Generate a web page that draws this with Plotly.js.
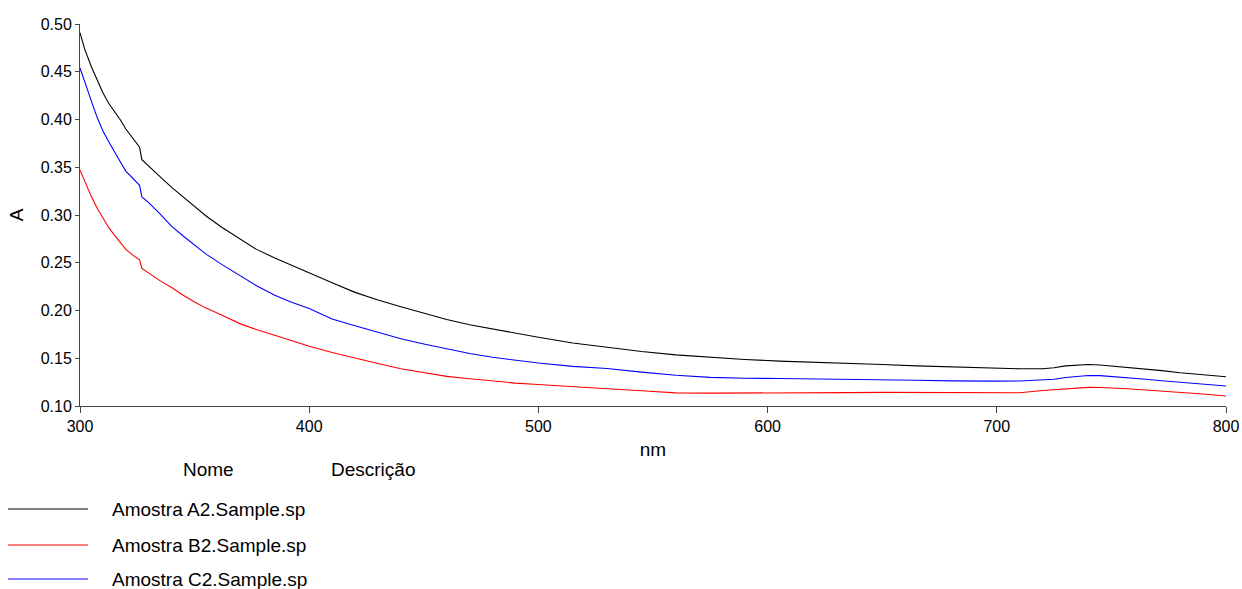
<!DOCTYPE html>
<html>
<head>
<meta charset="utf-8">
<script src="https://cdn.plot.ly/plotly-3.0.1.min.js"></script>
<style>html,body{margin:0;padding:0;background:#fff;}#chart{width:1242px;height:589px;}</style>
</head>
<body>
<div id="chart"></div>
<script>
// Wavelength grid (nm)
var wavelength = [300, 302, 305, 307.5, 310, 312.5, 315, 317.5, 320, 323,
  326, 327, 330, 335, 340, 345, 350, 355, 362, 370,
  377, 385, 392, 400, 410, 420, 430, 440, 450, 460,
  470, 480, 490, 500, 515, 530, 545, 560, 575, 590,
  605, 620, 635, 650, 665, 680, 690, 700, 710, 720,
  725, 730, 735, 740, 745, 750, 757, 765, 772, 780,
  790, 800];
// Absorbance series
var amostraA2 = [0.491, 0.474, 0.455, 0.441, 0.428, 0.417, 0.409, 0.400, 0.390, 0.380,
  0.371, 0.358, 0.351, 0.340, 0.329, 0.319, 0.309, 0.299, 0.287, 0.275,
  0.264, 0.255, 0.2475, 0.239, 0.229, 0.219, 0.211, 0.204, 0.197, 0.1905,
  0.185, 0.1805, 0.176, 0.172, 0.166, 0.1614, 0.157, 0.1535, 0.151, 0.1487,
  0.147, 0.146, 0.145, 0.1435, 0.142, 0.141, 0.140, 0.139, 0.139, 0.139,
  0.140, 0.142, 0.143, 0.1435, 0.143, 0.142, 0.140, 0.1384, 0.137, 0.1348,
  0.133, 0.1306];
var amostraB2 = [0.347, 0.335, 0.319, 0.307, 0.297, 0.287, 0.279, 0.271, 0.264, 0.258,
  0.253, 0.244, 0.239, 0.231, 0.224, 0.216, 0.209, 0.2025, 0.195, 0.186,
  0.180, 0.174, 0.168, 0.1625, 0.156, 0.150, 0.1445, 0.139, 0.135, 0.131,
  0.1285, 0.126, 0.124, 0.1225, 0.120, 0.118, 0.116, 0.1137, 0.1135, 0.1135,
  0.1135, 0.1135, 0.114, 0.1143, 0.1142, 0.1138, 0.1138, 0.1138, 0.1138, 0.1163,
  0.1172, 0.1183, 0.119, 0.1195, 0.1193, 0.119, 0.118, 0.1167, 0.1157, 0.1143,
  0.1125, 0.1104];
var amostraC2 = [0.454, 0.439, 0.419, 0.402, 0.388, 0.377, 0.366, 0.356, 0.346, 0.338,
  0.331, 0.319, 0.313, 0.301, 0.288, 0.278, 0.268, 0.259, 0.248, 0.236,
  0.226, 0.216, 0.209, 0.202, 0.191, 0.184, 0.177, 0.1705, 0.165, 0.1597,
  0.155, 0.151, 0.148, 0.145, 0.1415, 0.1393, 0.1355, 0.1322, 0.130, 0.129,
  0.1288, 0.1285, 0.128, 0.1278, 0.127, 0.1263, 0.126, 0.126, 0.1262, 0.127,
  0.128, 0.1298, 0.131, 0.132, 0.1318, 0.131, 0.1295, 0.128, 0.1265, 0.125,
  0.123, 0.121];

var seriesNames = ["Amostra A2.Sample.sp", "Amostra B2.Sample.sp", "Amostra C2.Sample.sp"];
var seriesColors = ["#000000", "#ff0000", "#0000ff"];
var seriesValues = [amostraA2, amostraB2, amostraC2];
var xTickVals = [300, 400, 500, 600, 700, 800];
var yTickVals = [0.10, 0.15, 0.20, 0.25, 0.30, 0.35, 0.40, 0.45, 0.50];
var legendHeaders = ["Nome", "Descrição"];

var W = 1242, H = 589;
var M = {l: 80, r: 16, t: 24, b: 183};
var PW = W - M.l - M.r, PH = H - M.t - M.b;
function px2x(px) { return (px - M.l) / PW; }
function py2y(py) { return (H - M.b - py) / PH; }

var FONT = "Liberation Sans, Arial, sans-serif";

var traces = seriesValues.map(function (vals, i) {
  return {
    x: wavelength, y: vals, type: "scatter", mode: "lines",
    name: seriesNames[i], showlegend: false,
    line: {color: seriesColors[i], width: 1.1}
  };
});

var legendRowsY = [509, 545, 579];
var shapes = [];
var annotations = [];
for (var i = 0; i < seriesNames.length; i++) {
  shapes.push({type: "line", xref: "paper", yref: "paper",
    x0: px2x(8), x1: px2x(88), y0: py2y(legendRowsY[i]), y1: py2y(legendRowsY[i]),
    line: {color: seriesColors[i], width: 1}});
  annotations.push({xref: "paper", yref: "paper", x: px2x(110), y: py2y(legendRowsY[i]),
    xanchor: "left", yanchor: "middle", showarrow: false, text: seriesNames[i],
    font: {family: FONT, size: 19, color: "#000"}});
}
annotations.push({xref: "paper", yref: "paper", x: px2x(208), y: py2y(469), xanchor: "center", yanchor: "middle",
  showarrow: false, text: legendHeaders[0], font: {family: FONT, size: 19, color: "#000"}});
annotations.push({xref: "paper", yref: "paper", x: px2x(373), y: py2y(469), xanchor: "center", yanchor: "middle",
  showarrow: false, text: legendHeaders[1], font: {family: FONT, size: 19, color: "#000"}});

var layout = {
  width: W, height: H,
  margin: M,
  paper_bgcolor: "#fff", plot_bgcolor: "#fff",
  font: {family: FONT, size: 16, color: "#000"},
  showlegend: false,
  xaxis: {
    range: [300, 800], tickvals: xTickVals, ticktext: xTickVals.map(String),
    showgrid: false, zeroline: false, showline: true, linecolor: "#444", linewidth: 1,
    ticks: "outside", ticklen: 6, tickcolor: "#444",
    tickfont: {family: FONT, size: 16, color: "#000"},
    title: {text: "nm", font: {family: FONT, size: 19, color: "#000"}, standoff: 8}
  },
  yaxis: {
    range: [0.10, 0.50], tickvals: yTickVals, ticktext: yTickVals.map(function (v) { return v.toFixed(2); }),
    showgrid: false, zeroline: false, showline: true, linecolor: "#444", linewidth: 1,
    ticks: "outside", ticklen: 4, tickcolor: "#444",
    tickfont: {family: FONT, size: 16, color: "#000"},
    title: {text: "A", font: {family: FONT, size: 19, color: "#000"}, standoff: 12}
  },
  shapes: shapes,
  annotations: annotations
};

Plotly.newPlot("chart", traces, layout, {staticPlot: true, displayModeBar: false});
</script>
</body>
</html>
